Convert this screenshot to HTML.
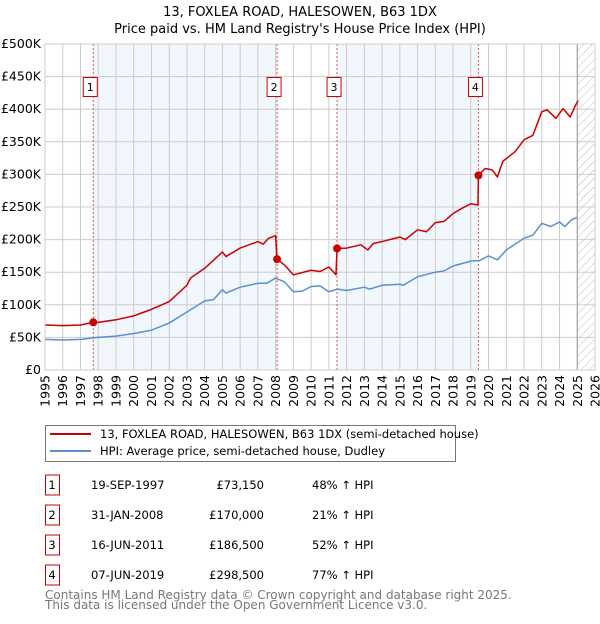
<!DOCTYPE html>
<html><head><meta charset="utf-8"><style>
body{margin:0;background:#fff;font-family:"DejaVu Sans","Liberation Sans",sans-serif;}
svg text{font-family:"DejaVu Sans","Liberation Sans",sans-serif;}
</style></head><body>
<svg id="c" width="600" height="620" xmlns="http://www.w3.org/2000/svg">
<defs><pattern id="hatch" width="6" height="6" patternUnits="userSpaceOnUse" patternTransform="rotate(45)"><line x1="0" y1="0" x2="0" y2="6" stroke="#bbb" stroke-width="1"/></pattern></defs>
<text x="300" y="16" text-anchor="middle" font-size="13">13, FOXLEA ROAD, HALESOWEN, B63 1DX</text>
<text x="300" y="33" text-anchor="middle" font-size="13">Price paid vs. HM Land Registry's House Price Index (HPI)</text>
<g id="plot"></g>
<g>
<rect x="45.5" y="425.5" width="410" height="36" fill="#fff" stroke="#777"/>
<line x1="50" y1="434" x2="91" y2="434" stroke="#cc0000" stroke-width="2"/>
<text x="100" y="438" font-size="11.5">13, FOXLEA ROAD, HALESOWEN, B63 1DX (semi-detached house)</text>
<line x1="50" y1="451" x2="91" y2="451" stroke="#5b8fd4" stroke-width="2"/>
<text x="100" y="455" font-size="11.5">HPI: Average price, semi-detached house, Dudley</text>
</g>
<g id="table"></g>
<text x="45" y="599" font-size="12" fill="#777">Contains HM Land Registry data © Crown copyright and database right 2025.</text>
<text x="45" y="609" font-size="12" fill="#777">This data is licensed under the Open Government Licence v3.0.</text>
</svg>
<script>
const hpiYears=[1995,1996,1997,1998,1999,2000,2001,2002,2003,2004,2004.5,2005,2005.2,2006,2007,2007.5,2008,2008.5,2009,2009.5,2010,2010.5,2011,2011.5,2012,2013,2013.3,2014,2015,2015.2,2016,2017,2017.5,2018,2019,2019.5,2020,2020.5,2021,2022,2022.5,2023,2023.5,2024,2024.3,2024.7,2025];
const hpiValues=[47,46,47,50,52,56,61,72,89,106,108,123,118,127,133,133,141,135,120,121,128,129,120,124,122,127,124,130,131.5,130,143,150,152,159.5,167,168,175,169,184,202,207,225,220,227,220,231,234];
const priceYears=[1995,1996,1997,1997.72,1998,1999,2000,2001,2002,2003,2003.2,2004,2005,2005.2,2006,2007,2007.3,2007.6,2008.0,2008.08,2008.5,2009,2010,2010.5,2011,2011.4,2011.46,2012,2012.8,2013.2,2013.5,2014,2015,2015.3,2016,2016.5,2017,2017.5,2018,2018.5,2019,2019.4,2019.43,2019.8,2020.2,2020.5,2020.8,2021.5,2022,2022.5,2023,2023.3,2023.8,2024.2,2024.6,2024.9,2025.05];
const priceValues=[69,68,69,73.15,73,77,83,93,105,130,141,156,181,174,187,197,193,202,206,170,161,146,153,151,158,146,186.5,187,192,184,194,197,204,200,215,212,226,228,240,248,255,253,298.5,309,307,296,320,335,353,360,396,399,386,401,388,406,413];
const saleYears=[1997.72,2008.08,2011.46,2019.43];
const saleValues=[73.15,170,186.5,298.5];
const saleLabels=["1","2","3","4"];
const saleDates=["19-SEP-1997","31-JAN-2008","16-JUN-2011","07-JUN-2019"];
const salePrices=["£73,150","£170,000","£186,500","£298,500"];
const saleHpi=["48% ↑ HPI","21% ↑ HPI","52% ↑ HPI","77% ↑ HPI"];
const yTicks=[0,50,100,150,200,250,300,350,400,450,500];
const yTickLabels=["£0","£50K","£100K","£150K","£200K","£250K","£300K","£350K","£400K","£450K","£500K"];
const xTicks=[1995,1996,1997,1998,1999,2000,2001,2002,2003,2004,2005,2006,2007,2008,2009,2010,2011,2012,2013,2014,2015,2016,2017,2018,2019,2020,2021,2022,2023,2024,2025,2026];

const NS="http://www.w3.org/2000/svg";
const L=45,R=595,T=44,B=370;
const X=y=>L+(y-1995)/(2026-1995)*(R-L);
const Y=v=>B-v/500*(B-T);
const plot=document.getElementById('plot');
function mk(tag,attrs,parent){const e=document.createElementNS(NS,tag);for(const k in attrs)e.setAttribute(k,attrs[k]);(parent||plot).appendChild(e);return e;}

for(let i=0;i<4;i+=2){
  const r=mk('rect',{x:X(saleYears[i]),y:T,width:X(saleYears[i+1])-X(saleYears[i]),height:B-T,fill:'#f2f6fd'});
  
  
}
const h=mk('rect',{x:X(2025),y:T,width:R-X(2025),height:B-T,fill:'url(#hatch)'});


yTicks.forEach((v,i)=>{
  const l=mk('line',{x1:L,x2:R,y1:Y(v),y2:Y(v),stroke:'#ccc','stroke-width':1});
  
  
  const t=mk('text',{x:L-4,y:Y(v)+4,'text-anchor':'end','font-size':12.5});
  t.textContent=yTickLabels[i];
  
  
});
xTicks.forEach(yr=>{
  const l=mk('line',{x1:X(yr),x2:X(yr),y1:T,y2:B,stroke:'#ccc','stroke-width':1});
  
  
  const t=mk('text',{x:0,y:0,'text-anchor':'end','font-size':12.5,transform:`translate(${X(yr)+4.5},${B+5}) rotate(-90)`});
  t.textContent=yr;
  
  
});
const ed=mk('line',{x1:X(2025),x2:X(2025),y1:T,y2:B,stroke:'#999','stroke-width':1});


saleYears.forEach((yr,i)=>{
  const l=mk('line',{x1:X(yr),x2:X(yr),y1:T,y2:B,stroke:'#e05555','stroke-width':1,'stroke-dasharray':'2,2'});
  
  
  const b=mk('rect',{x:X(yr)-10,y:77.5,width:14,height:19,fill:'#fff',stroke:'#cc0000'});
  
  
  const t=mk('text',{x:X(yr)-3,y:91,'text-anchor':'middle','font-size':11});
  t.textContent=saleLabels[i];
  
  
});
function line(xs,vs,color,name){
  const p=mk('polyline',{points:xs.map((x,i)=>X(x)+','+Y(vs[i])).join(' '),fill:'none',stroke:color,'stroke-width':1.5,'stroke-linejoin':'round'});
  
  
}
line(hpiYears,hpiValues,'#5b8fd4','hpi-line');
line(priceYears,priceValues,'#cc0000','price-paid-line');
saleYears.forEach((yr,i)=>{
  const c=mk('circle',{cx:X(yr),cy:Y(saleValues[i]),r:4,fill:'#cc0000'});
  
  
});
const fr=mk('rect',{x:L,y:T,width:R-L,height:B-T,fill:'none',stroke:'#ccc'});


const tb=document.getElementById('table');
saleLabels.forEach((lab,i)=>{
  const y=483+i*30;
  const b=mk('rect',{x:45.5,y:y-8,width:14,height:20,fill:'#fff',stroke:'#cc0000'},tb);
  
  
  const cells=[[52,lab,'middle'],[91,saleDates[i],'start'],[264,salePrices[i],'end'],[312,saleHpi[i],'start']];
  cells.forEach(c=>{
    const t=mk('text',{x:c[0],y:y+6,'text-anchor':c[2],'font-size':11.5},tb);
    t.textContent=c[1];
    
    
  });
});
</script>
</body></html>
